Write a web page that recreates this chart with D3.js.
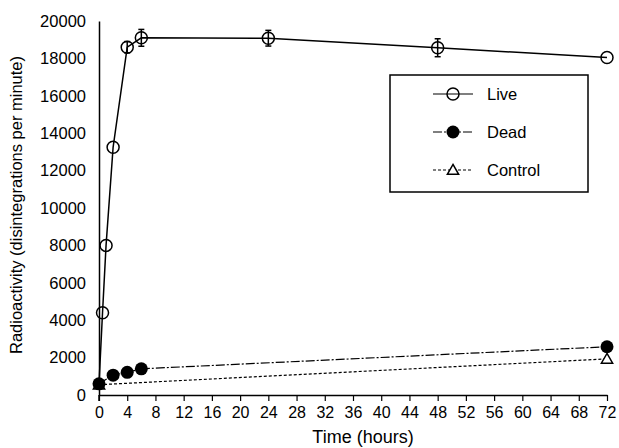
<!DOCTYPE html>
<html>
<head>
<meta charset="utf-8">
<script src="https://cdn.jsdelivr.net/npm/d3@7"></script>
<style>
    body { margin: 0; background: white; }
    text { font-family: "Liberation Sans", Arial, sans-serif; fill: black; }
</style>
</head>
<body>
<div id="chart"></div>
<script>
// Data
var liveTime = [0, 0.5, 1, 2, 4, 6, 24, 48, 72];
var liveValue = [600, 4400, 8000, 13250, 18600, 19100, 19080, 18570, 18050];
var liveError = [0, 0, 0, 0, 300, 450, 420, 480, 0];

var deadTime = [0, 2, 4, 6, 72];
var deadValue = [600, 1060, 1210, 1400, 2580];

var controlTime = [0, 72];
var controlValue = [550, 1930];

var xTicks = d3.range(0, 73, 4);
var yTicks = d3.range(0, 20001, 2000);
var legendLabels = ["Live", "Dead", "Control"];

var width = 619;
var height = 448;
var margin = { top: 21, right: 12, bottom: 53, left: 99 };

var svg = d3.select("#chart").append("svg")
    .attr("width", width)
    .attr("height", height);

// Scales
var x = d3.scaleLinear()
    .domain([0, 72])
    .range([margin.left, width - margin.right]);

var y = d3.scaleLinear()
    .domain([0, 20000])
    .range([height - margin.bottom, margin.top]);

// Axes
var xAxis = svg.append("g")
    .attr("transform", "translate(0," + y(0) + ")")
    .call(d3.axisBottom(x).tickValues(xTicks).tickSize(6).tickPadding(6).tickSizeOuter(0));
xAxis.select(".domain").attr("stroke-width", 1.5);
xAxis.selectAll(".tick line").attr("stroke-width", 1.2);
xAxis.selectAll("text").style("font-size", "16px");

var yAxis = svg.append("g")
    .attr("transform", "translate(" + x(0) + ",0)")
    .call(d3.axisLeft(y).tickValues(yTicks).tickSize(0).tickPadding(13).tickFormat(d3.format("d")));
yAxis.select(".domain").attr("stroke-width", 1.5);
yAxis.selectAll("text").style("font-size", "16.5px");

// y axis continues a little below zero
svg.append("line")
    .attr("x1", x(0)).attr("x2", x(0))
    .attr("y1", y(0)).attr("y2", y(0) + 6)
    .attr("stroke", "black").attr("stroke-width", 1.5);

// Axis titles
svg.append("text")
    .attr("x", (x(0) + x(72)) / 2 + 10)
    .attr("y", 443)
    .attr("text-anchor", "middle")
    .style("font-size", "18px")
    .text("Time (hours)");

svg.append("text")
    .attr("transform", "translate(22," + (y(10000) - 3) + ") rotate(-90)")
    .attr("text-anchor", "middle")
    .style("font-size", "16.5px")
    .text("Radioactivity (disintegrations per minute)");

function series(t, v) {
    return t.map(function (d, i) { return { t: d, v: v[i] }; });
}

var line = d3.line()
    .x(d => x(d.t))
    .y(d => y(d.v));

var liveData = series(liveTime, liveValue).map((d, i) => ({ t: d.t, v: d.v, e: liveError[i] }));
var deadData = series(deadTime, deadValue);
var controlData = series(controlTime, controlValue);

// Lines
svg.append("path")
    .datum(controlData)
    .attr("d", line)
    .attr("fill", "none")
    .attr("stroke", "black")
    .attr("stroke-width", 1.2)
    .attr("stroke-dasharray", "3,2");

svg.append("path")
    .datum(deadData)
    .attr("d", line)
    .attr("fill", "none")
    .attr("stroke", "black")
    .attr("stroke-width", 1.2)
    .attr("stroke-dasharray", "9,2,2,2");

svg.append("path")
    .datum(liveData)
    .attr("d", line)
    .attr("fill", "none")
    .attr("stroke", "black")
    .attr("stroke-width", 1.5);

// Error bars on the live series
var bars = svg.selectAll(".err")
    .data(liveData.filter(d => d.e > 0))
    .enter().append("g")
    .attr("class", "err")
    .attr("stroke", "black")
    .attr("stroke-width", 1.5);

bars.append("line")
    .attr("x1", d => x(d.t)).attr("x2", d => x(d.t))
    .attr("y1", d => y(d.v + d.e)).attr("y2", d => y(d.v - d.e));
bars.append("line")
    .attr("x1", d => x(d.t) - 3).attr("x2", d => x(d.t) + 3)
    .attr("y1", d => y(d.v + d.e)).attr("y2", d => y(d.v + d.e));
bars.append("line")
    .attr("x1", d => x(d.t) - 3).attr("x2", d => x(d.t) + 3)
    .attr("y1", d => y(d.v - d.e)).attr("y2", d => y(d.v - d.e));

// Markers
var triangle = d3.symbol().type(d3.symbolTriangle).size(55);

svg.selectAll(".ctrl")
    .data(controlData)
    .enter().append("path")
    .attr("class", "ctrl")
    .attr("d", triangle)
    .attr("transform", d => "translate(" + x(d.t) + "," + (y(d.v) + 1) + ")")
    .attr("fill", "white")
    .attr("stroke", "black")
    .attr("stroke-width", 1.5);

svg.selectAll(".dead")
    .data(deadData)
    .enter().append("circle")
    .attr("class", "dead")
    .attr("cx", d => x(d.t))
    .attr("cy", d => y(d.v))
    .attr("r", 6.5)
    .attr("fill", "black");

svg.selectAll(".live")
    .data(liveData.filter(d => d.t > 0))
    .enter().append("circle")
    .attr("class", "live")
    .attr("cx", d => x(d.t))
    .attr("cy", d => y(d.v))
    .attr("r", 6)
    .attr("fill", "none")
    .attr("stroke", "black")
    .attr("stroke-width", 1.5);

// Legend
var legend = svg.append("g");

legend.append("rect")
    .attr("x", 390).attr("y", 75)
    .attr("width", 198).attr("height", 117)
    .attr("fill", "white")
    .attr("stroke", "black")
    .attr("stroke-width", 1.5);

var dashes = [null, "9,2,2,2", "3,2"];
var keys = legend.selectAll(".key")
    .data(legendLabels)
    .enter().append("g")
    .attr("class", "key")
    .attr("transform", (d, i) => "translate(0," + (94 + i * 38) + ")");

keys.append("line")
    .attr("x1", 433).attr("x2", 473)
    .attr("stroke", "black")
    .attr("stroke-width", 1.2)
    .attr("stroke-dasharray", (d, i) => dashes[i]);

keys.each(function (d, i) {
    var g = d3.select(this);
    if (i === 0) {
        g.append("circle").attr("cx", 453).attr("r", 6)
            .attr("fill", "none").attr("stroke", "black").attr("stroke-width", 1.5);
    } else if (i === 1) {
        g.append("circle").attr("cx", 453).attr("r", 6.5).attr("fill", "black");
    } else {
        g.append("path").attr("d", triangle).attr("transform", "translate(453,1)")
            .attr("fill", "white").attr("stroke", "black").attr("stroke-width", 1.5);
    }
});

keys.append("text")
    .attr("x", 487)
    .attr("dy", "0.35em")
    .style("font-size", "16.5px")
    .text(d => d);
</script>
</body>
</html>
